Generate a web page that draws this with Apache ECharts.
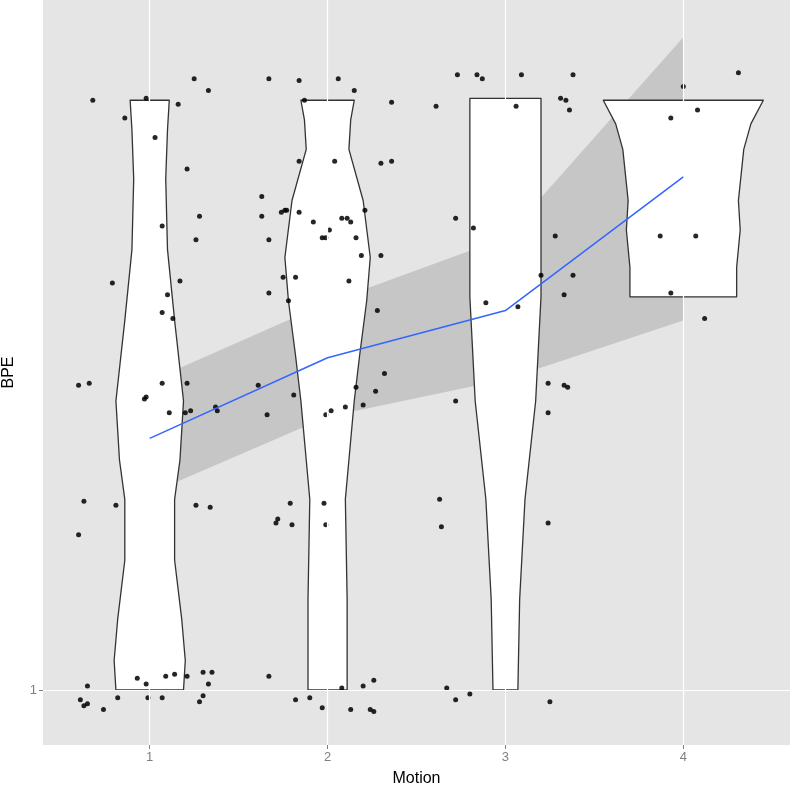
<!DOCTYPE html>
<html><head><meta charset="utf-8">
<script src="https://cdn.jsdelivr.net/npm/echarts@6/dist/echarts.min.js"></script>
<style>html,body{margin:0;padding:0;background:#fff}#c{width:792px;height:792px}</style>
</head><body><div id="c"></div>
<script>
const categories = [1, 2, 3, 4];
const xTickLabels = ['1', '2', '3', '4'];
const yTickLabels = [1];
// violin profiles: [BPE, half-width in Motion units]
const violin1 = [[4.00,0.11],[3.85,0.10],[3.60,0.09],[3.24,0.10],[2.88,0.14],[2.47,0.19],[2.17,0.17],[1.97,0.14],[1.66,0.14],[1.36,0.18],[1.15,0.20],[1.00,0.19]];
const violin2 = [[4.00,0.15],[3.90,0.13],[3.75,0.12],[3.49,0.20],[3.20,0.24],[2.98,0.22],[2.70,0.18],[2.47,0.15],[1.97,0.10],[1.46,0.11],[1.00,0.11]];
const violin3 = [[4.01,0.20],[3.50,0.20],[3.00,0.20],[2.47,0.17],[1.97,0.11],[1.46,0.08],[1.00,0.07]];
const violin4 = [[4.00,0.45],[3.88,0.38],[3.75,0.34],[3.49,0.31],[3.34,0.32],[3.15,0.30],[3.00,0.30]];
// smoother
const fitLine = [2.28, 2.69, 2.93, 3.61];
const fitLower = [2.00, 2.39, 2.58, 2.88];
const fitUpper = [2.57, 2.97, 3.30, 4.32];
// jittered points [Motion, BPE]
const points = [
[0.68,4.00],[0.86,3.91],[0.98,4.01],[1.16,3.98],[1.25,4.11],[1.33,4.05],[1.03,3.81],[1.07,3.36],[1.21,3.65],[0.79,3.07],
[1.10,3.01],[1.07,2.92],[1.13,2.89],[1.28,3.41],[1.26,3.29],[1.17,3.08],[0.98,2.49],[0.97,2.48],[1.07,2.56],[1.11,2.41],
[1.20,2.41],[1.23,2.42],[1.21,2.56],[1.37,2.44],[1.38,2.42],[0.60,2.55],[0.66,2.56],[0.81,1.94],[0.63,1.96],[0.60,1.79],
[1.26,1.94],[1.34,1.93],[0.98,1.03],[0.93,1.06],[1.09,1.07],[1.14,1.08],[1.21,1.07],[1.30,1.09],[1.35,1.09],[1.33,1.03],
[1.28,0.94],[0.65,1.02],[0.61,0.95],[0.63,0.92],[0.65,0.93],[0.74,0.90],[0.82,0.96],[0.99,0.96],[1.07,0.96],[1.30,0.97],
[1.67,4.11],[1.84,4.10],[2.06,4.11],[1.87,4.00],[2.15,4.05],[2.36,3.99],[1.84,3.69],[2.04,3.69],[2.30,3.68],[2.36,3.69],
[1.63,3.51],[1.63,3.41],[1.74,3.43],[1.76,3.44],[1.77,3.44],[1.84,3.43],[1.67,3.29],[1.92,3.38],[1.99,3.30],[1.97,3.30],
[2.01,3.34],[2.08,3.40],[2.11,3.40],[2.13,3.38],[2.16,3.30],[2.21,3.44],[1.75,3.10],[1.78,2.98],[1.67,3.02],[1.82,3.10],
[2.19,3.21],[2.30,3.21],[2.12,3.08],[2.28,2.93],[1.61,2.55],[1.66,2.40],[1.81,2.50],[1.99,2.40],[2.02,2.42],[2.10,2.44],
[2.16,2.54],[2.20,2.45],[2.27,2.52],[2.32,2.61],[1.79,1.95],[1.72,1.87],[1.71,1.85],[1.80,1.84],[1.98,1.95],[1.99,1.84],
[1.67,1.07],[1.82,0.95],[1.90,0.96],[1.97,0.91],[2.08,1.01],[2.13,0.90],[2.20,1.02],[2.26,1.05],[2.24,0.90],[2.26,0.89],
[2.73,4.13],[2.84,4.13],[3.09,4.13],[3.38,4.13],[2.61,3.97],[3.06,3.97],[3.31,4.01],[3.34,4.00],[3.36,3.95],[2.87,4.11],
[2.72,3.40],[2.82,3.35],[3.28,3.31],[3.20,3.11],[3.38,3.11],[3.33,3.01],[2.89,2.97],[3.07,2.95],[3.24,2.56],[2.72,2.47],
[3.33,2.55],[3.35,2.54],[3.24,2.41],[2.63,1.97],[2.64,1.83],[3.24,1.85],[2.67,1.01],[2.72,0.95],[2.80,0.98],[3.25,0.94],
[4.31,4.14],[4.00,4.07],[4.08,3.95],[3.93,3.91],[3.87,3.31],[4.07,3.31],[3.93,3.02],[4.12,2.89]
];
const violins = [violin1, violin2, violin3, violin4];

const chart = echarts.init(document.getElementById('c'));
const gridLine = {silent:true, symbol:'none', label:{show:false}, lineStyle:{color:'#fff', width:1.2, type:'solid'}};
chart.setOption({
  backgroundColor:'#fff',
  animation:false,
  grid:{left:43, right:2, top:0, bottom:47, show:true, backgroundColor:'#E5E5E5', borderWidth:0, containLabel:false, outerBoundsMode:'none'},
  xAxis:{type:'value', min:0.4, max:4.6, name:'Motion', nameLocation:'middle', nameGap:26,
    nameTextStyle:{fontSize:16, color:'#000', fontFamily:'Liberation Sans'},
    axisLine:{show:false}, splitLine:{show:false},
    axisTick:{show:true, customValues:categories, length:4, lineStyle:{color:'#7f7f7f'}},
    axisLabel:{customValues:categories, formatter:v=>xTickLabels[categories.indexOf(v)]||'', color:'#7f7f7f', fontSize:13, margin:6, fontFamily:'Liberation Sans'}},
  yAxis:{type:'value', min:0.72, max:4.51, name:'BPE', nameLocation:'middle', nameGap:26, nameRotate:90,
    nameTextStyle:{fontSize:16, color:'#000', fontFamily:'Liberation Sans'},
    axisLine:{show:false}, splitLine:{show:false},
    axisTick:{show:true, customValues:yTickLabels, length:4, lineStyle:{color:'#7f7f7f'}},
    axisLabel:{customValues:yTickLabels, formatter:v=>String(v), color:'#7f7f7f', fontSize:13, margin:6, fontFamily:'Liberation Sans'}},
  series:[
    {type:'line', data:[], z:1, markLine:Object.assign({data:categories.map(c=>({xAxis:c})).concat(yTickLabels.map(v=>({yAxis:v})))}, gridLine)},
    {type:'custom', z:2, data:[0], renderItem:(p,api)=>{
      const pts=[];
      categories.forEach((c,i)=>pts.push(api.coord([c,fitUpper[i]])));
      for(let i=categories.length-1;i>=0;i--) pts.push(api.coord([categories[i],fitLower[i]]));
      return {type:'polygon', shape:{points:pts}, style:{fill:'rgba(153,153,153,0.4)'}};
    }},
    {type:'custom', z:3, data:violins.map((v,i)=>i), renderItem:(p,api)=>{
      const i=api.value(0); const prof=violins[i]; const c=categories[i];
      const pts=[];
      prof.forEach(([y,w])=>pts.push(api.coord([c+w,y])));
      for(let k=prof.length-1;k>=0;k--) pts.push(api.coord([c-prof[k][1],prof[k][0]]));
      return {type:'polygon', shape:{points:pts}, style:{fill:'#fff', stroke:'#333', lineWidth:1.3, lineJoin:'round'}};
    }},
    {type:'scatter', z:4, data:points, symbolSize:5, itemStyle:{color:'#000', opacity:0.85}},
    {type:'line', z:5, data:categories.map((c,i)=>[c,fitLine[i]]), symbol:'none', lineStyle:{color:'#3366FF', width:1.5}}
  ]
});
</script></body></html>
